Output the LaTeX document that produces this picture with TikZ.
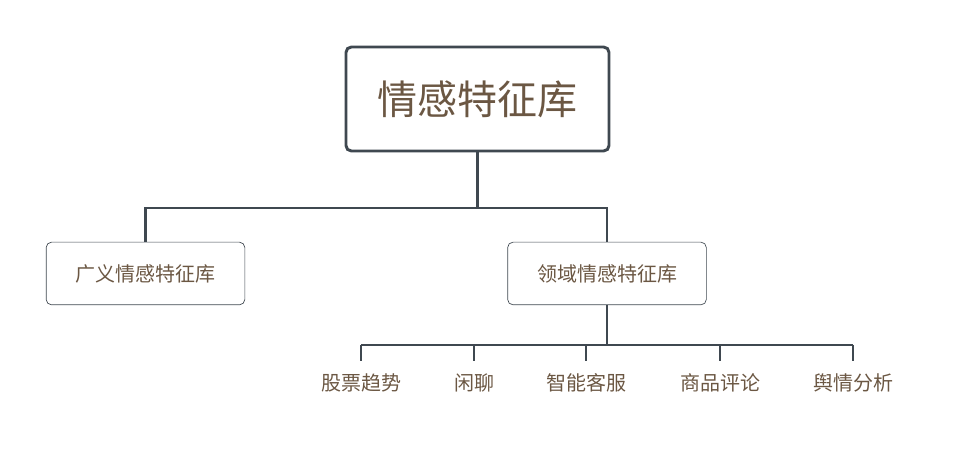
\documentclass[tikz,border=0pt]{standalone}
\usepackage{fontspec}
\setmainfont{Noto Sans CJK SC}
\usetikzlibrary{positioning}
\definecolor{txtbrown}{HTML}{6B5743}
\definecolor{linegray}{HTML}{3F4850}
\begin{document}
\begin{tikzpicture}[x=0.75pt,y=-0.75pt]
	\tikzstyle{every node}=[text=txtbrown]
	\tikzstyle{rootbox}=[draw=linegray,line width=2.2pt,rounded corners=4pt,minimum width=197.25pt,minimum height=78pt,font=\fontsize{30}{30}\selectfont]
	\tikzstyle{midbox}=[draw=linegray,line width=0.5pt,rounded corners=4pt,minimum width=149pt,minimum height=47pt,font=\fontsize{15}{15}\selectfont]
	\tikzstyle{leaf}=[font=\fontsize{15}{15}\selectfont]
	\tikzstyle{thick link}=[draw=linegray,line width=2.2pt]
	\tikzstyle{thin link}=[draw=linegray,line width=0.8pt]

	\useasboundingbox (0,0) rectangle (958,449);

	\node [rootbox] (root) at (477.5,99) {情感特征库};
	\node [midbox] (general) at (145.5,273.5) {广义情感特征库};
	\node [midbox] (domain) at (607,273.5) {领域情感特征库};

	\node [leaf] (stock) at (361,383) {股票趋势};
	\node [leaf] (chat) at (474,383) {闲聊};
	\node [leaf] (service) at (586,383) {智能客服};
	\node [leaf] (review) at (720,383) {商品评论};
	\node [leaf] (opinion) at (853,383) {舆情分析};

	\coordinate (split) at (root.south |- 0,208);
	\draw [thick link] (root.south) -- (split);
	\draw [thick link] (general.north) |- (split) -| (domain.north);

	\coordinate (bus) at (domain.south |- 0,345);
	\draw [thin link] (domain.south) -- (bus);
	\draw [thin link] (stock.north |- bus) -- (opinion.north |- bus);
	\foreach \leafname in {stock,chat,service,review,opinion}
		\draw [thin link] (\leafname.north |- bus) -- ++(0,16);
\end{tikzpicture}
\end{document}
